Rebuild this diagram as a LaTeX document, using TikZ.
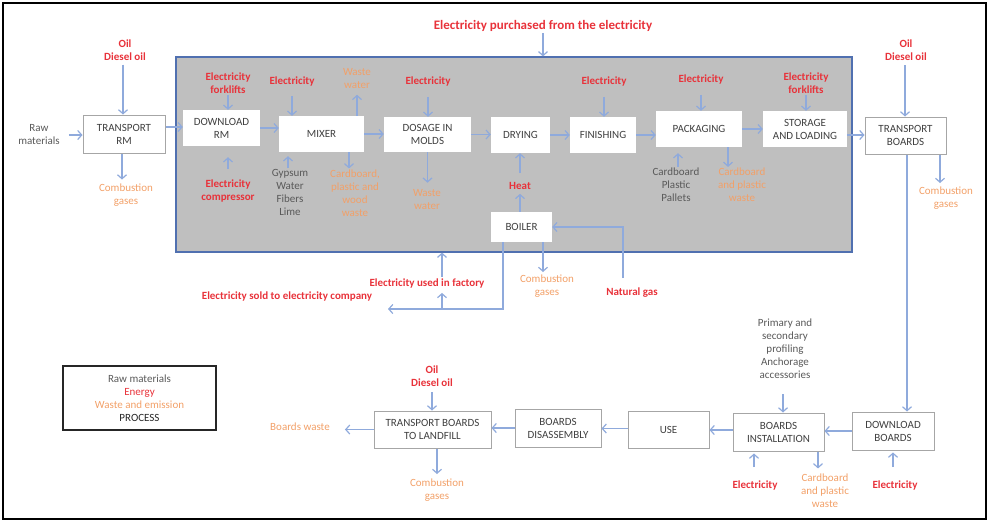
\documentclass[tikz,border=0pt]{standalone}
\usepackage{fontspec}
\setmainfont{Carlito}
\usetikzlibrary{arrows.meta,calc}
\definecolor{ered}{RGB}{232,50,58}
\definecolor{eorange}{RGB}{242,160,104}
\definecolor{tgray}{RGB}{89,89,89}
\definecolor{boxtext}{RGB}{64,64,64}
\definecolor{boxline}{RGB}{166,166,166}
\definecolor{arrblue}{RGB}{143,170,220}
\definecolor{facfill}{RGB}{191,191,191}
\definecolor{facline}{RGB}{80,112,176}
\begin{document}
\begin{tikzpicture}[x=1pt,y=-1pt,
  every node/.style={font=\fontsize{11}{13}\selectfont},
  lbl/.style={align=center, inner sep=1pt},
  en/.style={lbl, text=ered, font=\fontsize{11}{13}\selectfont\bfseries},
  wst/.style={lbl, text=eorange},
  raw/.style={lbl, text=tgray},
  pbox/.style={draw=boxline, line width=1pt, fill=white, align=center, text=boxtext, inner sep=1pt},
  fbox/.style={fill=white, align=center, text=boxtext, inner sep=1pt},
  arr/.style={draw=arrblue, line width=1.2pt, -{Straight Barb[length=4pt,width=9pt]}},
  ln/.style={draw=arrblue, line width=1.2pt}
]
\useasboundingbox (0,0) rectangle (990,523);
\draw[line width=2pt, black] (3,3) rectangle (986,519);

% factory
\node[draw=facline, fill=facfill, line width=1.2pt, minimum width=676, minimum height=195, inner sep=0] (fac) at (514,154.5) {};

% process boxes
\node[pbox, minimum width=82, minimum height=38] (trm) at (124,134) {TRANSPORT\\RM};
\node[fbox, minimum width=77, minimum height=36] (drm) at (221.5,128) {DOWNLOAD\\RM};
\node[fbox, minimum width=85, minimum height=36] (mixer) at (321.5,134) {MIXER};
\node[fbox, minimum width=87, minimum height=35] (dosage) at (427.5,134.5) {DOSAGE IN\\MOLDS};
\node[fbox, minimum width=59, minimum height=36] (drying) at (520.5,135) {DRYING};
\node[fbox, minimum width=66, minimum height=36] (finishing) at (603,135) {FINISHING};
\node[fbox, minimum width=86, minimum height=36] (packaging) at (699,129) {PACKAGING};
\node[fbox, minimum width=84, minimum height=36] (storage) at (805,129) {STORAGE\\AND LOADING};
\node[pbox, minimum width=81, minimum height=37] (tb) at (905.5,135.5) {TRANSPORT\\BOARDS};
\node[fbox, minimum width=61, minimum height=30] (boiler) at (521.5,227) {BOILER};

\node[pbox, minimum width=117, minimum height=37] (landfill) at (432.5,429.5) {TRANSPORT BOARDS\\TO LANDFILL};
\node[pbox, minimum width=86, minimum height=38] (disas) at (558,428) {BOARDS\\DISASSEMBLY};
\node[pbox, minimum width=81, minimum height=37] (use) at (668.5,429.5) {USE};
\node[pbox, minimum width=91, minimum height=38] (inst) at (778.5,432) {BOARDS\\INSTALLATION};
\node[pbox, minimum width=82, minimum height=38] (db) at (893,431) {DOWNLOAD\\BOARDS};

\node[draw=black!85, line width=1.5pt, minimum width=153, minimum height=64, align=center, inner sep=1pt] (legend) at (139.5,398)
  {{\color{tgray}Raw materials}\\{\color{ered}Energy}\\{\color{eorange}Waste and emission}\\{\color{black!85}PROCESS}};

% labels
\node[raw] (raw) at (39,135) {Raw\\materials};
\node[en] (oil1) at (125,50) {Oil\\Diesel oil};
\node[wst] (comb1) at (126,195) {Combustion\\gases};
\node[en] (elf1) at (228,83.5) {Electricity\\forklifts};
\node[en] (elc) at (228,190.5) {Electricity\\compressor};
\node[en] (elmix) at (292,82) {Electricity};
\node[wst] (ww1) at (357,78.5) {Waste\\water};
\node[raw] (gyp) at (290,192.5) {Gypsum\\Water\\Fibers\\Lime};
\node[wst] (cpw) at (355,193) {Cardboard,\\plastic and\\wood\\waste};
\node[en] (eldos) at (428,82) {Electricity};
\node[wst] (ww2) at (427,200) {Waste\\water};
\node[en, font=\fontsize{13}{15}\selectfont\bfseries] (purch) at (543,26) {Electricity purchased from the electricity};
\node[en] (heat) at (520,186) {Heat};
\node[en] (elfin) at (604,82) {Electricity};
\node[en] (elpack) at (701,80) {Electricity};
\node[raw] (cpp) at (676,185) {Cardboard\\Plastic\\Pallets};
\node[wst] (cpw2) at (742,185) {Cardboard\\and plastic\\waste};
\node[en] (elf2) at (806,83.5) {Electricity\\forklifts};
\node[en] (oil2) at (906,50.5) {Oil\\Diesel oil};
\node[wst] (comb2) at (946,198.5) {Combustion\\gases};
\node[en] (ngas) at (632,293) {Natural gas};
\node[wst] (comb3) at (547,286.5) {Combustion\\gases};
\node[en] (used) at (427,283) {Electricity used in factory};
\node[en] (sold) at (287,296) {Electricity sold to electricity company};
\node[raw] (prim) at (785,349) {Primary and\\secondary\\profiling\\Anchorage\\accessories};
\node[en] (elinst) at (755,485) {Electricity};
\node[wst] (cpw3) at (825,490.5) {Cardboard\\and plastic\\waste};
\node[en] (eldb) at (895,485) {Electricity};
\node[en] (oil3) at (432,376.5) {Oil\\Diesel oil};
\node[wst] (bw) at (300,427) {Boards waste};
\node[wst] (comb4) at (437,490.5) {Combustion\\gases};

\coordinate (soldend) at (388,309);
\coordinate (usedfoot) at (442,309);

% main flow
\draw[arr, shorten <=8pt] (raw.east) -- (raw.east -| trm.west);
\draw[arr] ([yshift=7]trm.east) -- ([yshift=7]trm.east -| drm.west);
\draw[arr] (drm.east) -- (drm.east -| mixer.west);
\draw[arr] (mixer.east) -- (mixer.east -| dosage.west);
\draw[arr] (dosage.east) -- (dosage.east -| drying.west);
\draw[arr] (drying.east) -- (drying.east -| finishing.west);
\draw[arr] (finishing.east) -- (finishing.east -| packaging.west);
\draw[arr] (packaging.east) -- (packaging.east -| storage.west);
\draw[arr] ([yshift=-6]storage.east) -- ([yshift=-6]storage.east -| tb.west);
\draw[arr] ([xshift=1.5]tb.south) -- ([xshift=1.5]tb.south |- db.north);
\draw[arr] (db.west) -- (db.west -| inst.east);
\draw[arr] ([yshift=2]inst.west) -- ([yshift=2]inst.west -| use.east);
\draw[arr] ([yshift=1]use.west) -- ([yshift=1]use.west -| disas.east);
\draw[arr] (disas.west) -- (disas.west -| landfill.east);

% inputs / outputs
\draw[arr, shorten <=3pt] ([xshift=-2]oil1.south) -- ([xshift=-2]oil1.south |- trm.north);
\draw[arr, shorten >=3pt] ([xshift=-2]trm.south) -- ([xshift=-2]trm.south |- comb1.north);
\draw[arr] (elf1.south) -- (elf1.south |- drm.north);
\draw[arr, shorten <=9pt, shorten >=11pt] (elc.north) -- (elc.north |- drm.south);
\draw[arr, shorten <=8pt] (elmix.south) -- (elmix.south |- mixer.north);
\draw[arr, shorten >=5pt] ([xshift=35.5]mixer.north) -- ([xshift=35.5]mixer.north |- ww1.south);
\draw[arr, shorten >=4pt] ([xshift=-2]gyp.north) -- ([xshift=-2]gyp.north |- mixer.south);
\draw[arr] ([xshift=27.5]mixer.south) -- ([xshift=27.5]mixer.south |- cpw.north);
\draw[arr, shorten <=9pt] (eldos.south) -- (eldos.south |- dosage.north);
\draw[arr, shorten >=6pt] (dosage.south) -- (dosage.south |- ww2.north);
\draw[arr] (purch.south) -- (purch.south |- fac.north);
\draw[arr, shorten <=8pt] (heat.north) -- (heat.north |- drying.south);
\draw[arr, shorten >=3pt] ([xshift=-1.5]boiler.north) -- ([xshift=-1.5]boiler.north |- heat.south);
\draw[arr, shorten <=9pt] (elfin.south) -- (elfin.south |- finishing.north);
\draw[arr, shorten <=9pt] (elpack.south) -- (elpack.south |- packaging.north);
\draw[arr, shorten >=6pt] ([xshift=2]cpp.north) -- ([xshift=2]cpp.north |- packaging.south);
\draw[arr] ([xshift=29]packaging.south) -- ([xshift=29]packaging.south |- cpw2.north);
\draw[arr] (elf2.south) -- (elf2.south |- storage.north);
\draw[arr, shorten <=3pt] ([xshift=-1]oil2.south) -- ([xshift=-1]oil2.south |- tb.north);
\draw[arr, shorten >=3pt] ([xshift=34.5]tb.south) -- ([xshift=34.5]tb.south |- comb2.north);

% boiler
\draw[arr, shorten <=9pt] ([xshift=-9]ngas.north) |- (boiler.east);
\draw[arr, shorten >=2pt] ([xshift=21.5]boiler.south) -- ([xshift=21.5]boiler.south |- comb3.north);
\draw[arr] ([xshift=-18.5]boiler.south) |- (soldend);
\draw[arr, shorten >=4pt] (usedfoot) -- (usedfoot |- used.south);
\draw[arr] ([xshift=15]used.north) -- ([xshift=15]used.north |- fac.south);

% end of life
\draw[arr, shorten >=14pt] (landfill.west) -- (landfill.west -| bw.east);
\draw[arr, shorten <=4pt] (oil3.south) -- (oil3.south |- landfill.north);
\draw[arr, shorten >=4pt] ([xshift=4.5]landfill.south) -- ([xshift=4.5]landfill.south |- comb4.north);
\draw[arr, shorten <=14pt] ([xshift=-2]prim.south) -- ([xshift=-2]prim.south |- inst.north);
\draw[arr, shorten <=12pt, shorten >=2pt] ([xshift=-1]elinst.north) -- ([xshift=-1]elinst.north |- inst.south);
\draw[arr, shorten >=4pt] ([xshift=39.5]inst.south) -- ([xshift=39.5]inst.south |- cpw3.north);
\draw[arr, shorten <=12pt, shorten >=2pt] ([xshift=-2]eldb.north) -- ([xshift=-2]eldb.north |- db.south);
\end{tikzpicture}
\end{document}
